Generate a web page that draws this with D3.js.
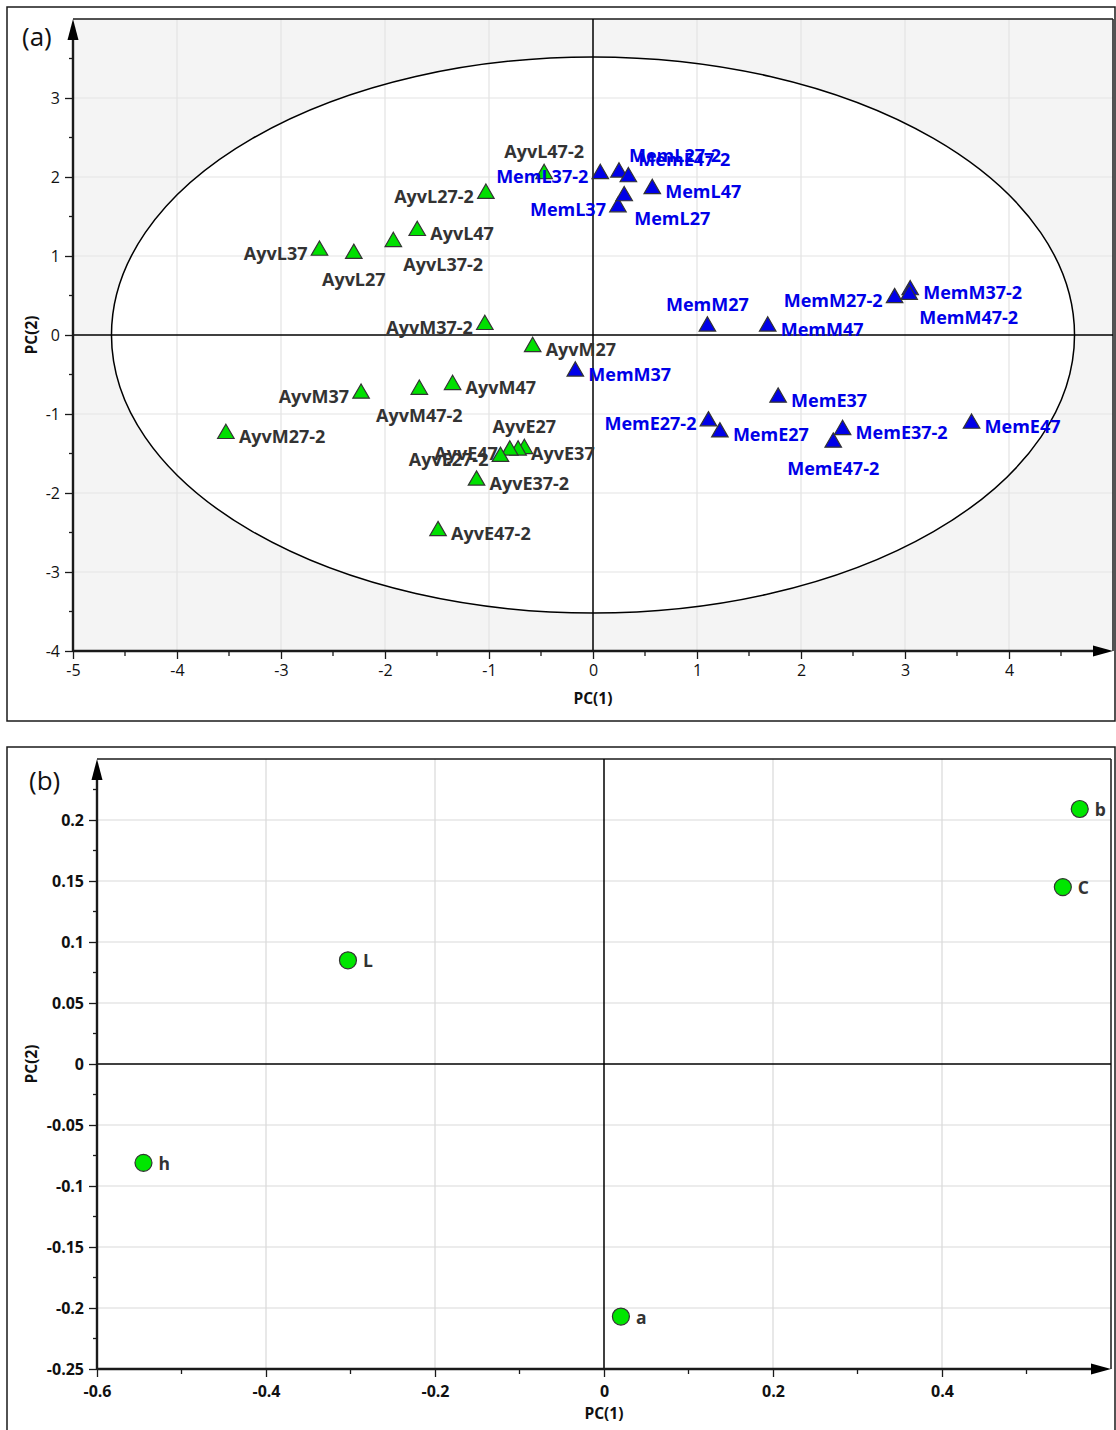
<!DOCTYPE html>
<html><head><meta charset="utf-8">
<script src="https://cdn.jsdelivr.net/npm/d3@7"></script>
<style>body{margin:0;background:#fff}svg{display:block}text{font-family:"Open Sans",sans-serif}</style>
</head><body><svg id="c" width="1116" height="1430"></svg>
<script>
// ---------- Panel (a) data: PCA scores ----------
const ayvNames = ["AyvL47-2","AyvL27-2","AyvL47","AyvL37-2","AyvL37","AyvL27","AyvM37-2","AyvM27","AyvM47","AyvM47-2","AyvM37","AyvM27-2","AyvE27","AyvE37","AyvE47","AyvE27-2","AyvE37-2","AyvE47-2"];
const ayvPC1 = [-0.47,-1.03,-1.69,-1.92,-2.63,-2.30,-1.04,-0.58,-1.35,-1.67,-2.23,-3.53,-0.66,-0.72,-0.80,-0.89,-1.12,-1.49];
const ayvPC2 = [2.04,1.79,1.32,1.18,1.07,1.03,0.13,-0.15,-0.63,-0.69,-0.74,-1.25,-1.44,-1.46,-1.46,-1.54,-1.84,-2.48];
const memNames = ["MemL37-2","MemL27-2","MemE47-2","MemL47","MemL37","MemL27","MemM27","MemM47","MemM27-2","MemM37-2","MemM47-2","MemM37","MemE37","MemE27-2","MemE27","MemE37-2","MemE47-2","MemE47"];
const memPC1 = [0.07,0.25,0.34,0.57,0.24,0.30,1.10,1.68,2.90,3.05,3.04,-0.17,1.78,1.11,1.22,2.40,2.31,3.64];
const memPC2 = [2.04,2.06,2.00,1.85,1.62,1.76,0.11,0.11,0.47,0.57,0.51,-0.46,-0.79,-1.09,-1.23,-1.20,-1.36,-1.12];
const ellipseRx = 4.63, ellipseRy = 3.52;
const aXTicks = [-5,-4,-3,-2,-1,0,1,2,3,4];
const aYTicks = [-4,-3,-2,-1,0,1,2,3];
const aXDomain = [-5,5], aYDomain = [-4,4];

// ---------- Panel (b) data: loadings ----------
const bNames = ["L","h","a","b","C"];
const bPC1 = [-0.303,-0.545,0.020,0.563,0.543];
const bPC2 = [0.085,-0.081,-0.207,0.209,0.145];
const bXTicks = [-0.6,-0.4,-0.2,0,0.2,0.4];
const bYTicks = [-0.25,-0.2,-0.15,-0.1,-0.05,0,0.05,0.1,0.15,0.2];
const bXDomain = [-0.6,0.6], bYDomain = [-0.25,0.25];

// ---------- label placement (layout, not data) ----------
const ayvSide = ["t","l","r","br","l","b","l","r","r","b","l","r","t","r","l","l","r","r"];
const memSide = ["l","tr","tr","r","l","br","t","r","l","r","br","r","r","l","r","r","b","r"];
const sideOff = {r:[13,3,"start"], l:[-12,3,"end"], t:[0,-22,"middle"], b:[0,26,"middle"], tr:[10,-17,"start"], br:[10,23,"start"]};

const svg = d3.select("#c");
const DARK = "#1a1a1a";

function frame(x0,y0,x1,y1){
  svg.append("rect").attr("x",x0).attr("y",y0).attr("width",x1-x0).attr("height",y1-y0)
    .attr("fill","none").attr("stroke",DARK).attr("stroke-width",1.5);
}

function axesDecor(g, x, y, xt, yt, xMinor, yMinor, tickFont, tickWeight, xPad){
  const [xl,xr] = x.range(), [yb,yt0] = y.range();
  g.append("line").attr("x1",xl).attr("x2",xr).attr("y1",yt0).attr("y2",yt0).attr("stroke",DARK).attr("stroke-width",1.5);
  g.append("line").attr("x1",xr).attr("x2",xr).attr("y1",yt0).attr("y2",yb).attr("stroke",DARK).attr("stroke-width",1.5);
  g.append("line").attr("x1",x(0)).attr("x2",x(0)).attr("y1",yt0).attr("y2",yb).attr("stroke","#000").attr("stroke-width",1.5);
  g.append("line").attr("x1",xl).attr("x2",xr).attr("y1",y(0)).attr("y2",y(0)).attr("stroke","#000").attr("stroke-width",1.5);
  const fmt = d=>d3.format("")(d).replace("−","-");
  const xa = g.append("g").attr("transform",`translate(0,${yb})`)
    .call(d3.axisBottom(x).tickValues(xt).tickSize(8).tickPadding(xPad).tickFormat(fmt));
  xa.select(".domain").remove();
  xa.selectAll("text").attr("font-size",tickFont).attr("font-weight",tickWeight).attr("fill","#111").style("font-family","'Open Sans',sans-serif");
  xa.selectAll("line").attr("stroke",DARK).attr("stroke-width",1.3);
  g.selectAll(null).data(xMinor).enter().append("line")
    .attr("x1",d=>x(d)).attr("x2",d=>x(d)).attr("y1",yb).attr("y2",yb+5).attr("stroke",DARK).attr("stroke-width",1.3);
  const ya = g.append("g").attr("transform",`translate(${xl},0)`)
    .call(d3.axisLeft(y).tickValues(yt).tickSize(8).tickPadding(5).tickFormat(fmt));
  ya.select(".domain").remove();
  ya.selectAll("text").attr("font-size",tickFont).attr("font-weight",tickWeight).attr("fill","#111").style("font-family","'Open Sans',sans-serif");
  ya.selectAll("line").attr("stroke",DARK).attr("stroke-width",1.3);
  g.selectAll(null).data(yMinor).enter().append("line")
    .attr("x1",xl-4).attr("x2",xl).attr("y1",d=>y(d)).attr("y2",d=>y(d)).attr("stroke",DARK).attr("stroke-width",1.3);
  g.append("line").attr("x1",xl).attr("x2",xr-18).attr("y1",yb).attr("y2",yb).attr("stroke",DARK).attr("stroke-width",2.4);
  g.append("line").attr("x1",xl).attr("x2",xl).attr("y1",yb).attr("y2",yt0+18).attr("stroke",DARK).attr("stroke-width",2.4);
  g.append("path").attr("d",`M${xr},${yb} L${xr-20},${yb-5.5} L${xr-20},${yb+5.5}Z`).attr("fill","#000");
  g.append("path").attr("d",`M${xl},${yt0} L${xl-5.5},${yt0+21} L${xl+5.5},${yt0+21}Z`).attr("fill","#000");
}

function gridlines(g,x,y,xt,yt,color){
  const [xl,xr] = x.range(), [yb,yt0] = y.range();
  g.selectAll(null).data(xt.filter(d=>d!==0 && d!==x.domain()[0])).enter().append("line")
    .attr("x1",d=>x(d)).attr("x2",d=>x(d)).attr("y1",yt0).attr("y2",yb).attr("stroke",color).attr("stroke-width",1.2);
  g.selectAll(null).data(yt.filter(d=>d!==0 && d!==y.domain()[0])).enter().append("line")
    .attr("x1",xl).attr("x2",xr).attr("y1",d=>y(d)).attr("y2",d=>y(d)).attr("stroke",color).attr("stroke-width",1.2);
}

// ================= Panel (a) =================
frame(7,7,1115,721);
const xa = d3.scaleLinear().domain(aXDomain).range([73,1113]);
const ya = d3.scaleLinear().domain(aYDomain).range([651,19]);
const ga = svg.append("g");
ga.append("rect").attr("x",73).attr("y",19).attr("width",1040).attr("height",632).attr("fill","#f4f4f4");
ga.append("ellipse").attr("cx",xa(0)).attr("cy",ya(0)).attr("rx",xa(ellipseRx)-xa(0)).attr("ry",ya(0)-ya(ellipseRy)).attr("fill","#fff");
gridlines(ga,xa,ya,aXTicks,aYTicks,"#e3e3e3");
ga.append("ellipse").attr("cx",xa(0)).attr("cy",ya(0)).attr("rx",xa(ellipseRx)-xa(0)).attr("ry",ya(0)-ya(ellipseRy)).attr("fill","none").attr("stroke","#000").attr("stroke-width",1.5);
const aXMinor = d3.range(-4.5,5,1), aYMinor = d3.range(-3.5,4,1);
axesDecor(ga,xa,ya,aXTicks,aYTicks,aXMinor,aYMinor,16,400,6);
ga.append("text").attr("x",xa(0)).attr("y",704).attr("text-anchor","middle").attr("font-size",15.5).attr("font-weight",700).attr("fill","#111").text("PC(1)");
ga.append("text").attr("transform",`translate(37,${ya(0)}) rotate(-90)`).attr("text-anchor","middle").attr("font-size",15.5).attr("font-weight",700).attr("fill","#111").text("PC(2)");
ga.append("text").attr("x",22).attr("y",46).attr("font-size",26).attr("fill","#111").text("(a)");

const tri = d3.symbol().type(d3.symbolTriangle).size(118);
function drawGroup(names,pc1,pc2,sides,fill){
  const data = names.map((n,i)=>({n,x:pc1[i],y:pc2[i],s:sides[i]}));
  ga.selectAll(null).data(data).enter().append("path")
    .attr("d",tri).attr("transform",d=>`translate(${xa(d.x)},${ya(d.y)})`)
    .attr("fill",fill).attr("stroke","#333").attr("stroke-width",1.2);
  return data;
}
const ayvData = drawGroup(ayvNames,ayvPC1,ayvPC2,ayvSide,"#00e000");
const memData = drawGroup(memNames,memPC1,memPC2,memSide,"#0000e8");
function drawLabels(data,color){
  ga.selectAll(null).data(data).enter().append("text")
    .attr("x",d=>xa(d.x)+sideOff[d.s][0]).attr("y",d=>ya(d.y)+sideOff[d.s][1])
    .attr("dy","0.35em").attr("text-anchor",d=>sideOff[d.s][2])
    .attr("font-size",18).attr("font-weight",700).attr("fill",color).text(d=>d.n);
}
drawLabels(ayvData,"#333");
drawLabels(memData,"#0000e8");

// ================= Panel (b) =================
frame(7,747,1115,1440);
const xb = d3.scaleLinear().domain(bXDomain).range([97,1111]);
const yb = d3.scaleLinear().domain(bYDomain).range([1369,759]);
const gb = svg.append("g");
gridlines(gb,xb,yb,bXTicks,bYTicks,"#d9d9d9");
const bXMinor = d3.range(-0.5,0.6,0.2), bYMinor = d3.range(-0.225,0.25,0.05);
axesDecor(gb,xb,yb,bXTicks,bYTicks,bXMinor,bYMinor,16,700,9);
gb.append("text").attr("x",xb(0)).attr("y",1419).attr("text-anchor","middle").attr("font-size",15.5).attr("font-weight",700).attr("fill","#111").text("PC(1)");
gb.append("text").attr("transform",`translate(37,${yb(0)}) rotate(-90)`).attr("text-anchor","middle").attr("font-size",15.5).attr("font-weight",700).attr("fill","#111").text("PC(2)");
gb.append("text").attr("x",29).attr("y",790).attr("font-size",26).attr("fill","#111").text("(b)");
const bData = bNames.map((n,i)=>({n,x:bPC1[i],y:bPC2[i]}));
gb.selectAll(null).data(bData).enter().append("circle")
  .attr("cx",d=>xb(d.x)).attr("cy",d=>yb(d.y)).attr("r",8.5)
  .attr("fill","#00e600").attr("stroke","#333").attr("stroke-width",1.2);
gb.selectAll(null).data(bData).enter().append("text")
  .attr("x",d=>xb(d.x)+15).attr("y",d=>yb(d.y)+1).attr("dy","0.35em")
  .attr("font-size",17.5).attr("font-weight",700).attr("fill","#333").text(d=>d.n);
</script></body></html>
